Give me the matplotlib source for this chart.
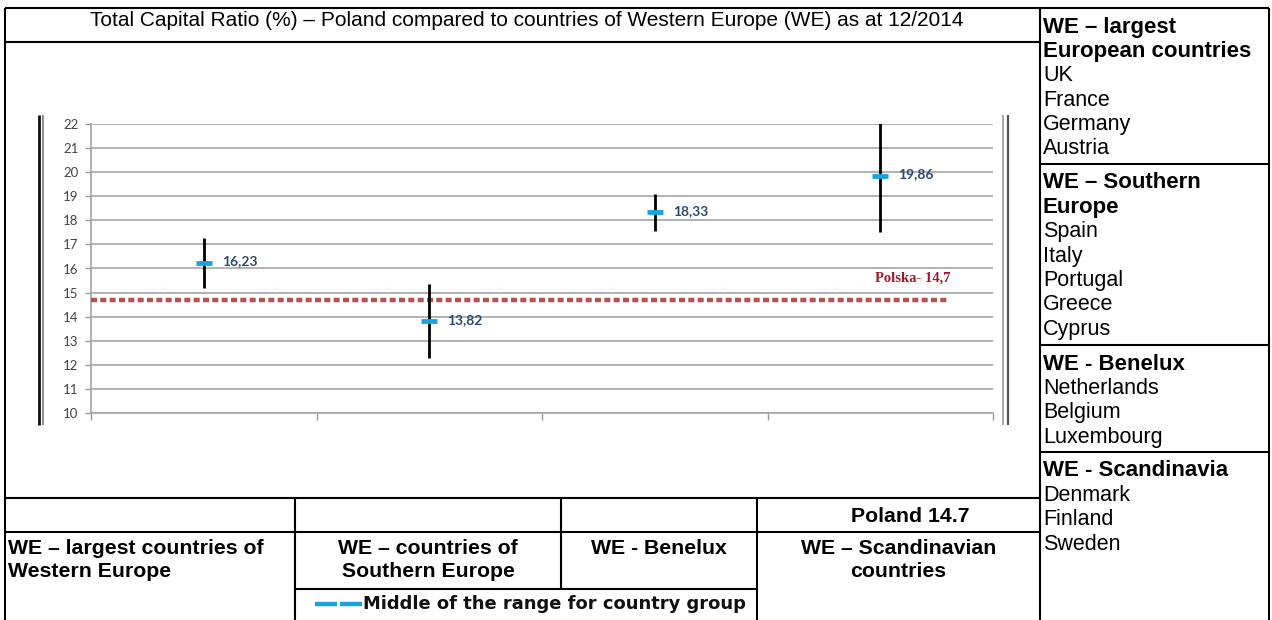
import matplotlib
matplotlib.use("Agg")
import matplotlib.pyplot as plt
from matplotlib.lines import Line2D

# ---------------- data ----------------
chart_title = "Total Capital Ratio (%) – Poland compared to countries of Western Europe (WE) as at 12/2014"
group_labels = [
    ["WE – largest countries of", "Western Europe"],
    ["WE – countries of", "Southern Europe"],
    ["WE - Benelux"],
    ["WE – Scandinavian", "countries"],
]
range_low = [15.2, 12.3, 17.55, 17.5]
range_high = [17.25, 15.35, 19.11, 22.05]
midpoints = [16.23, 13.82, 18.33, 19.86]
mid_labels = ["16,23", "13,82", "18,33", "19,86"]
poland_value = 14.7
poland_chart_label = "Polska- 14,7"
poland_table_label = "Poland 14.7"
legend_label = "Middle of the range for country group"
y_ticks = list(range(10, 23))

right_headers = [
    ["WE – largest", "European countries"],
    ["WE – Southern", "Europe"],
    ["WE - Benelux"],
    ["WE - Scandinavia"],
]
largest_countries = ["UK", "France", "Germany", "Austria"]
southern_countries = ["Spain", "Italy", "Portugal", "Greece", "Cyprus"]
benelux_countries = ["Netherlands", "Belgium", "Luxembourg"]
scandinavia_countries = ["Denmark", "Finland", "Sweden"]
right_lists = [largest_countries, southern_countries, benelux_countries, scandinavia_countries]

# ---------------- layout ----------------
W, H = 1272, 620
fig = plt.figure(figsize=(W / 100, H / 100), dpi=100)
fig.patch.set_facecolor("white")

bg = fig.add_axes([0, 0, 1, 1])
bg.set_xlim(0, W)
bg.set_ylim(H, 0)
bg.axis("off")

SANS = ["Liberation Sans", "DejaVu Sans"]
LW = 1.5


def hline(y, x0, x1, lw=LW, color="black"):
    bg.add_line(Line2D([x0, x1], [y, y], lw=lw, color=color, solid_capstyle="butt"))


def vline(x, y0, y1, lw=LW, color="black"):
    bg.add_line(Line2D([x, x], [y0, y1], lw=lw, color=color, solid_capstyle="butt"))


# outer frame and table grid
L, R, T, B = 5, 1269, 8, 620
RC = 1040  # right column left edge
hline(T, L, R)
vline(L, T, B)
vline(R, T, B)
vline(RC, T, B)
hline(42, L, RC)
# right column section separators
sec_tops = [T, 164, 345, 452]
for y in sec_tops[1:]:
    hline(y, RC, R)
# bottom table
cols = [L, 295, 561, 757, RC]
r1, r2, r3 = 498, 532, 589
hline(r1, L, RC)
hline(r2, L, RC)
hline(r3, cols[1], cols[3])
vline(cols[1], r1, B)
vline(cols[2], r1, r3)
vline(cols[3], r1, B)

# title
bg.text(527, 21, chart_title, ha="center", va="center",
        fontsize=15, family=SANS)

# right column text
step = 24.4
for top, hdr, items in zip(sec_tops, right_headers, right_lists):
    y = top + 19
    for h in hdr:
        bg.text(RC + 3, y, h, ha="left", va="center", fontsize=16,
                fontweight="bold", family=SANS)
        y += step
    for it in items:
        bg.text(RC + 3, y, it, ha="left", va="center", fontsize=15.5, family=SANS)
        y += step

# bottom table text
TF = 15.3
bg.text(910, (r1 + r2) / 2 + 1, poland_table_label, ha="center",
        va="center", fontsize=TF, fontweight="bold", family=SANS)
for i, lines in enumerate(group_labels):
    for j, t in enumerate(lines):
        y = 548 + j * 23.5
        if i == 0:
            bg.text(L + 3, y, t, ha="left", va="center", fontsize=TF,
                    fontweight="bold", family=SANS)
        else:
            bg.text((cols[i] + cols[i + 1]) / 2, y, t, ha="center", va="center",
                    fontsize=TF, fontweight="bold", family=SANS)

# legend row
cyan = "#1aa3dc"
leg_y = 604
bg.add_line(Line2D([315, 337], [leg_y, leg_y], lw=3.2, color=cyan, solid_capstyle="butt"))
bg.add_line(Line2D([340, 362], [leg_y, leg_y], lw=3.2, color=cyan, solid_capstyle="butt"))
bg.text(363, leg_y, legend_label, ha="left", va="center", fontsize=12.9,
        fontweight="bold", family=["DejaVu Sans"], color="#111111")

# embedded picture border lines (double lines)
vline(39, 115, 425, lw=2.0, color="#111111")
vline(43, 115, 425, lw=1.2, color="#777777")
vline(1003, 115, 425, lw=1.2, color="#9a9a9a")
vline(1008, 115, 425, lw=1.6, color="#555555")

# ---------------- chart ----------------
ax_l, ax_r, ax_t, ax_b = 91, 993, 124, 413
ax = fig.add_axes([ax_l / W, 1 - ax_b / H, (ax_r - ax_l) / W, (ax_b - ax_t) / H])
ax.patch.set_alpha(0)
n = len(midpoints)
xs = list(range(1, n + 1))
ax.set_xlim(0.5, n + 0.5)
ax.set_ylim(10, 22)
ax.set_yticks(y_ticks)
ax.set_yticklabels([str(v) for v in y_ticks], fontsize=9.5, family=["Lato", "DejaVu Sans"],
                   color="#444444")
ax.set_xticks([i + 0.5 for i in range(0, n + 1)])
ax.set_xticklabels([])
ax.tick_params(axis="y", length=4, width=1, color="#999999", pad=5)
ax.tick_params(axis="x", length=5, width=1, color="#999999")
grid_c = "#a4a4a4"
ax.yaxis.grid(True, color=grid_c, lw=1.2)
ax.set_axisbelow(True)
for s in ["top", "right"]:
    ax.spines[s].set_visible(False)
ax.spines["left"].set_color(grid_c)
ax.spines["bottom"].set_color(grid_c)
ax.spines["left"].set_linewidth(1.2)
ax.spines["bottom"].set_linewidth(1.2)

# Poland dotted line
pol_end = 4.3
ax.plot([0.5, pol_end], [poland_value, poland_value], color="#b84646", lw=3.2,
        dashes=(1.35, 0.75), zorder=3, alpha=0.95)
ax.annotate(poland_chart_label, xy=(pol_end, poland_value), xytext=(2, 16),
            textcoords="offset points", ha="right", va="center", fontsize=10.5,
            fontweight="bold", family=["Liberation Serif", "DejaVu Serif"],
            color="#a3172a")

# ranges and midpoints
ax.vlines(xs, range_low, range_high, color="black", lw=2, zorder=4)
ax.plot(xs, midpoints, linestyle="none", marker="_", markersize=12, mew=3.5,
        color=cyan, zorder=5)
for x, m, lab in zip(xs, midpoints, mid_labels):
    ax.annotate(lab, xy=(x, m), xytext=(13, 1), textcoords="offset points",
                ha="left", va="center", fontsize=10, fontweight="bold",
                family=["Lato", "DejaVu Sans"], color="#2b4a72")

fig.savefig("out.png", dpi=100, facecolor="white")
